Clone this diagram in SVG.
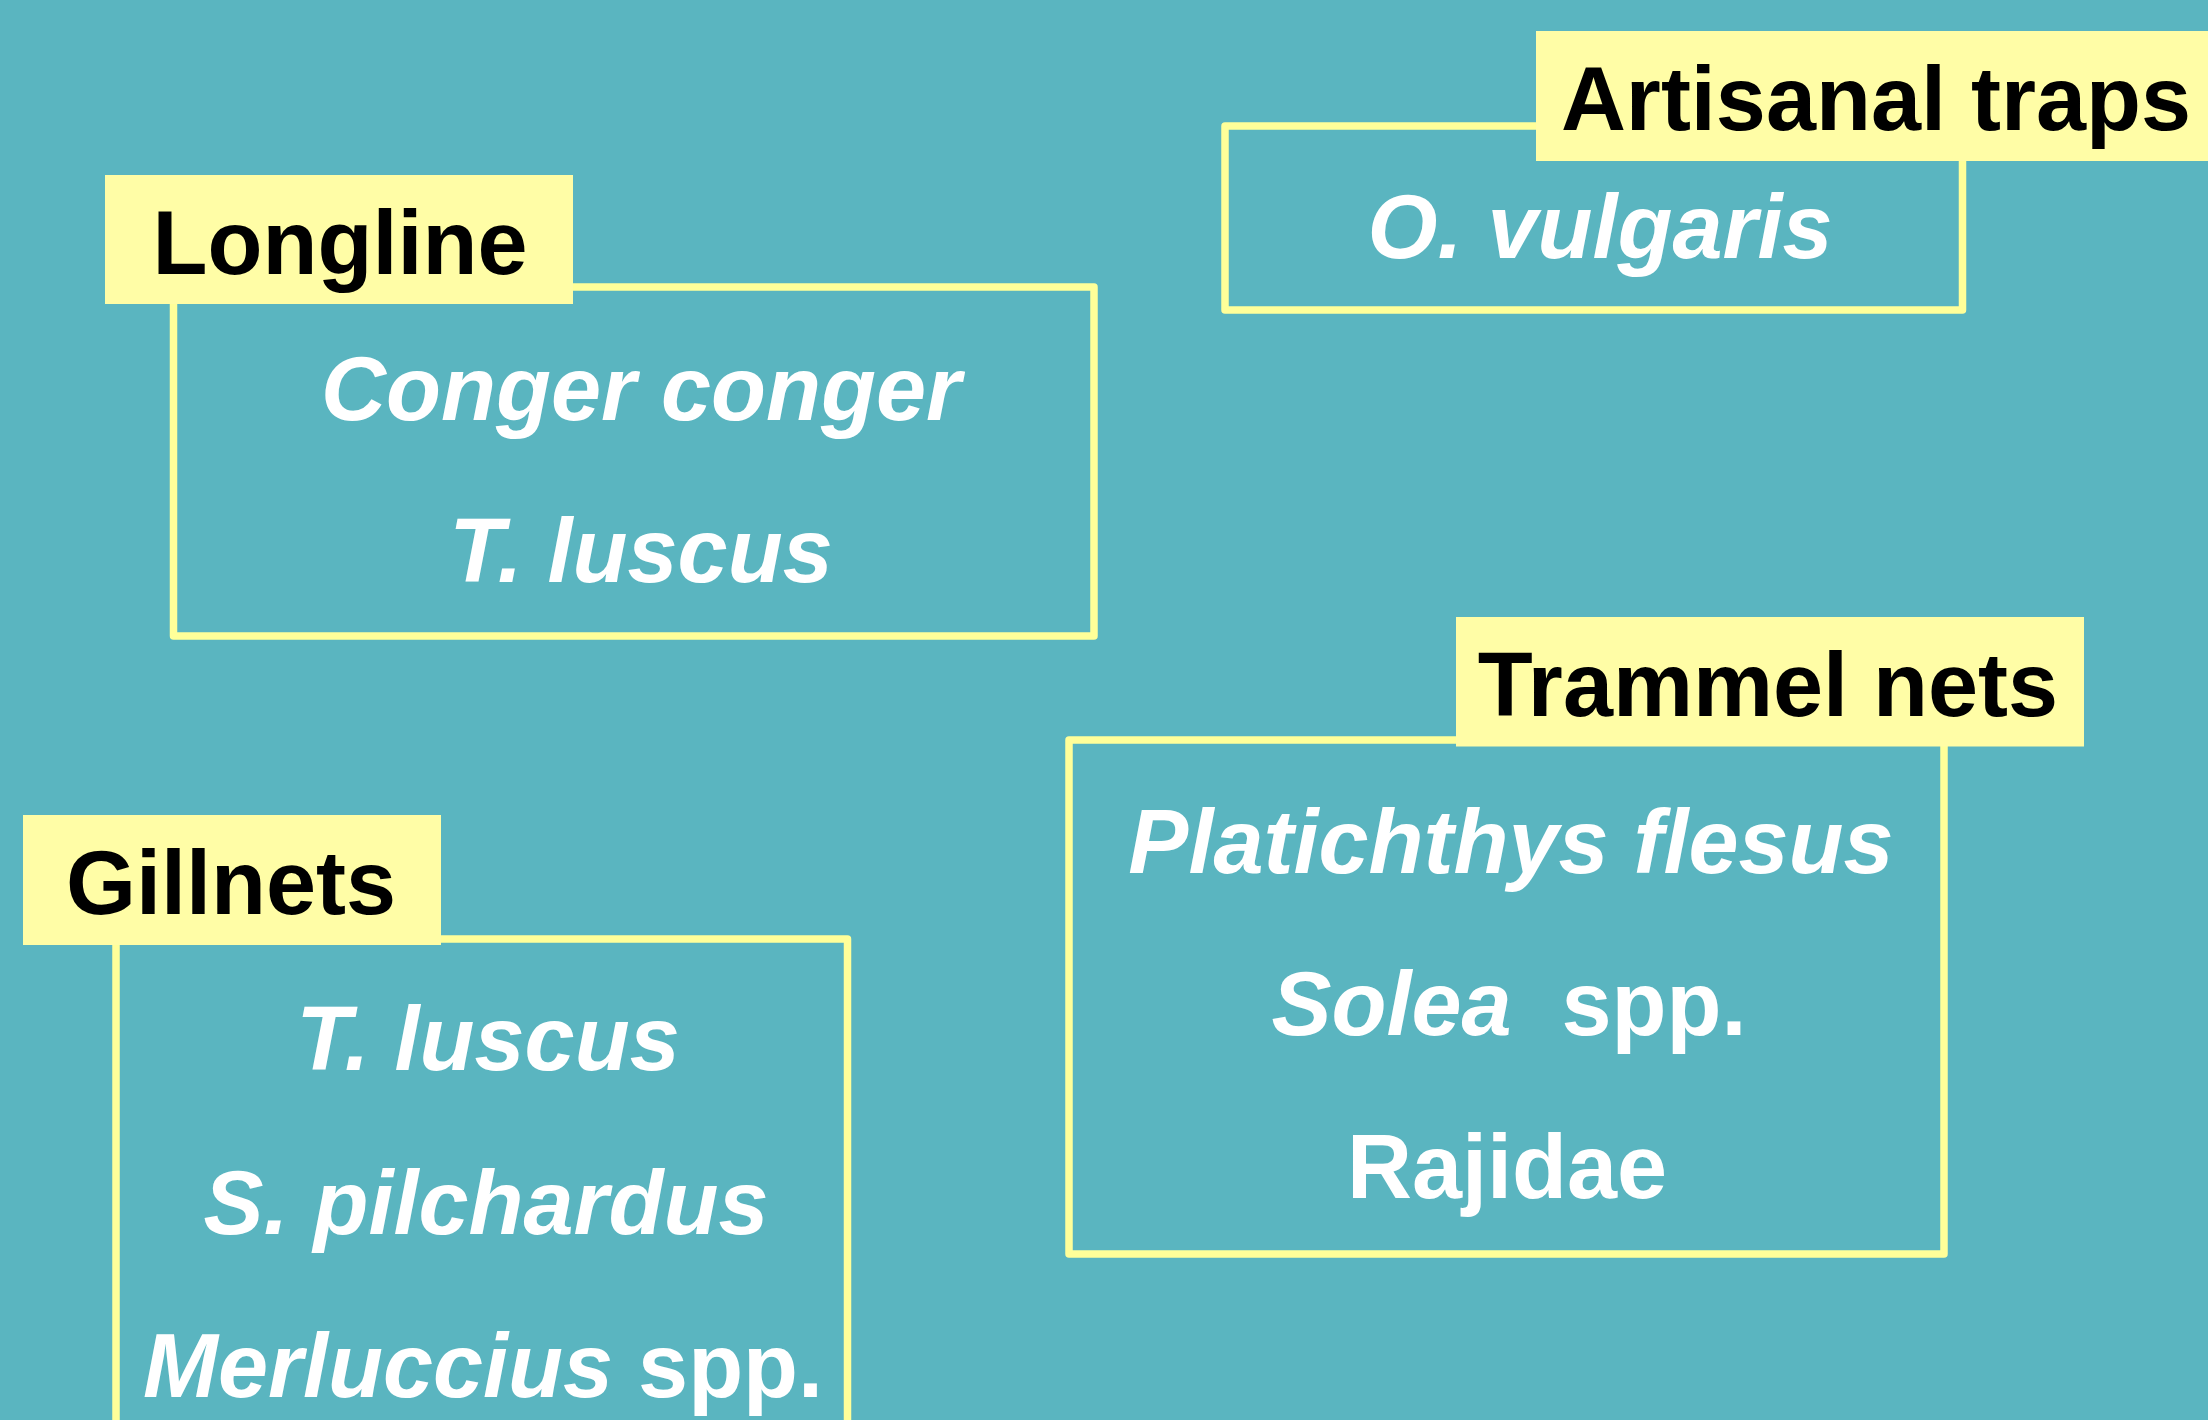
<svg xmlns="http://www.w3.org/2000/svg" width="2208" height="1420" viewBox="0 0 2208 1420">
<style>
.bg{fill:#5AB5C0}
.box{fill:none;stroke:#FFFF99;stroke-width:7.5;stroke-linejoin:round}
.lab{fill:#FFFDA6}
.lt{font-family:"Liberation Sans",Arial,sans-serif;font-weight:bold;font-size:90px;fill:#000;text-anchor:middle}
.sp{font-family:"Liberation Sans",Arial,sans-serif;font-weight:bold;font-size:90px;fill:#fff;text-anchor:middle}
.it{font-style:italic}
</style>
<rect class="bg" x="0" y="0" width="2208" height="1420"/>
<g id="connectors"></g>
<g id="longline">
<rect class="box" x="173.5" y="287" width="920.5" height="349"/>
<rect class="lab" x="105" y="175" width="468" height="129"/>
<text class="lt" x="340" y="274">Longline</text>
<text class="sp it" x="641" y="420">Conger conger</text>
<text class="sp it" x="641" y="582">T. luscus</text>
</g>
<g id="artisanal-traps">
<rect class="box" x="1225" y="126" width="737.5" height="184"/>
<rect class="lab" x="1536" y="31" width="672" height="130"/>
<text class="lt" x="1876" y="129.5">Artisanal traps</text>
<text class="sp it" x="1600" y="258">O. vulgaris</text>
</g>
<g id="gillnets">
<rect class="box" x="116" y="939" width="731.5" height="520"/>
<rect class="lab" x="23" y="815" width="418" height="130"/>
<text class="lt" x="231" y="914">Gillnets</text>
<text class="sp it" x="488" y="1070">T. luscus</text>
<text class="sp it" x="486" y="1233.5">S. pilchardus</text>
<text class="sp" x="483" y="1396.5"><tspan class="it">Merluccius</tspan> spp.</text>
</g>
<g id="trammel-nets">
<rect class="box" x="1069" y="740" width="875" height="514"/>
<rect class="lab" x="1456" y="617" width="628" height="129.5"/>
<text class="lt" x="1768" y="716">Trammel nets</text>
<text class="sp it" x="1511" y="872.5">Platichthys flesus</text>
<text class="sp" x="1509" y="1035"><tspan class="it">Solea</tspan><tspan dx="25"> spp.</tspan></text>
<text class="sp" x="1507" y="1198">Rajidae</text>
</g>
</svg>
